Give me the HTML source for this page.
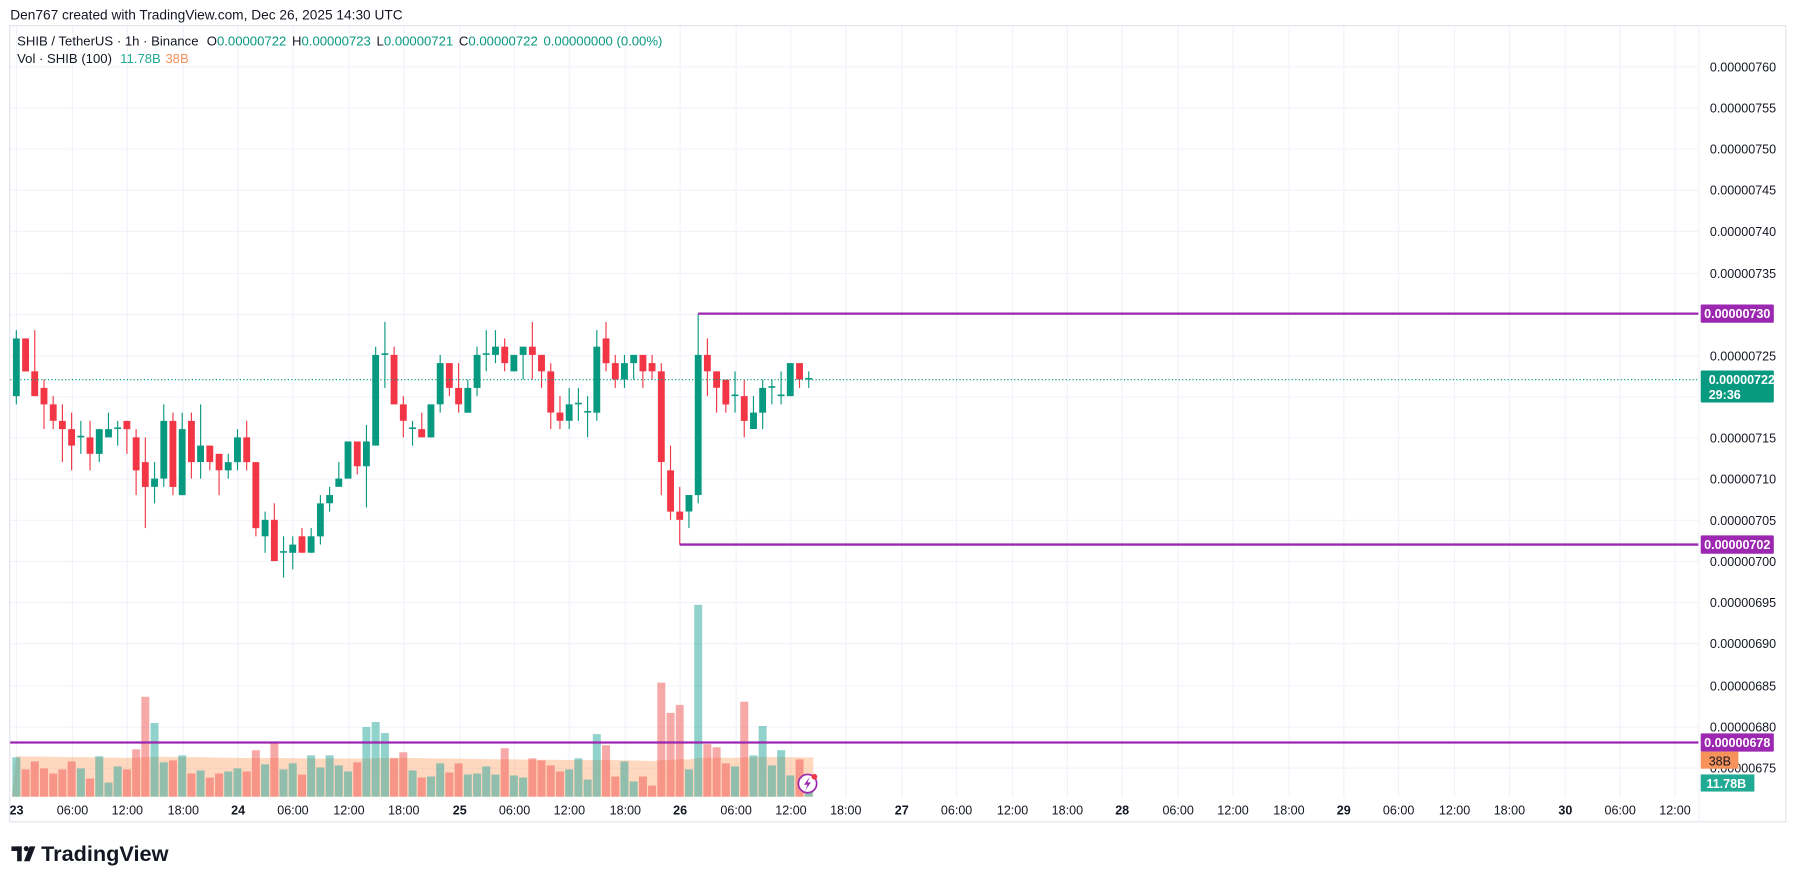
<!DOCTYPE html>
<html><head><meta charset="utf-8"><style>
html,body{margin:0;padding:0;background:#fff;}
svg{display:block;font-family:"Liberation Sans",sans-serif;}
</style></head><body>
<svg id="chart" width="1793" height="885" viewBox="0 0 1569.8 774.8" preserveAspectRatio="none" xmlns="http://www.w3.org/2000/svg">
<rect x="0" y="0" width="1570" height="775" fill="#ffffff"/>
<text x="9" y="17" font-size="12" fill="#131722">Den767 created with TradingView.com, Dec 26, 2025 14:30 UTC</text>
<g id="grid"></g>
<g id="vol"></g>
<g id="candles"></g>
<g id="over"></g>
<rect x="8.5" y="22.5" width="1555" height="697" fill="none" stroke="#e0e3eb"/>
<line x1="1487.5" y1="22" x2="1487.5" y2="720" stroke="#f0f3fa"/>
<text x="15" y="40" font-size="11.5" fill="#131722">SHIB / TetherUS · 1h · Binance <tspan dx="4">O</tspan><tspan fill="#089981">0.00000722</tspan><tspan dx="5">H</tspan><tspan fill="#089981">0.00000723</tspan><tspan dx="5">L</tspan><tspan fill="#089981">0.00000721</tspan><tspan dx="5">C</tspan><tspan fill="#089981">0.00000722</tspan><tspan dx="5" fill="#089981">0.00000000 (0.00%)</tspan></text>
<text x="15" y="55" font-size="11.5" fill="#131722">Vol · SHIB (100) <tspan dx="4" fill="#22ab94">11.78B</tspan><tspan dx="4" fill="#f7925a">38B</tspan></text>
<g>
<rect x="10" y="741" width="9" height="4" fill="#131722"/><rect x="15" y="741" width="4" height="13" fill="#131722"/>
<circle cx="23" cy="743" r="2.2" fill="#131722"/><polygon points="26,741 31,741 26,754 21,754" fill="#131722"/>
<text x="36" y="754" font-size="19" font-weight="bold" fill="#131722">TradingView</text>
</g>
</svg>
<script>
const opens=[720,727,723,721,719,717,716,715,715,713,715,716,717,715,712,709,710,717,708,717,712,714,713,711,712,715,712,703,705,701,701,703,701,703,707,709,710,714.5,711.5,714,725,725,719,716,716,715,719,724,721,718,721,725,725,726,723,725,726,725,723,718,717,719,718,718,727,724,722,724,725,724,723,711,706,706,708,725,723,722,720,720,716,718,721,720,720,724,722];
const highs=[728,727,728,722,720,719,718,717,717,716,718,717,717,716,715,712,719,718,718,718,719,714,713,713,716,717,712,706,707,703,703,704,704,708,709,712,714.5,714.5,716.5,726,729,726,720,717,718,719,725,724,724,722,726,728,728,727,725,726,729,725,724,720,721,721,720,728,729,725,725,725,725,725,724,714,709,708,730,727,723,722,723,722,720,722,722,723,724,724,723];
const lows=[719,723,720,716,716,712,711,713,711,712,715,714,713,708,704,707,709,708,708,710,710,711,708,710,711,711,703,701,700,698,699,701,701,702,706,709,710,710.5,706.5,714,721,719,715,714,715,715,718,720,718,718,720,723,724,723,723,722,722,721,716,716,716,717,715,717,723,721,721,722,721,722,708,705,702,704,707,720,718,718,718,715,716,716,719,719,720,721,721];
const closes=[727,723,720,719,717,716,714,715.2,713,716,716,716.2,716,711,709,710,717,709,716,712,714,712,711,712,715,712,704,705,700,701.2,702,701,703,707,708,710,714.5,711.5,714.5,725,725.2,719,717,716.2,715,719,724,721,719,721,725,725.2,726,724,725,726,725,723,718,717,719,719.2,718.2,726,724,722,724,725,723,723,712,706,705,708,725,723,721,719,720.2,717,718,721,721.2,720.2,724,722,722.2];
const volumes=[39,27,35,28,23,27,35,28,18,40,14,30,27,47,99,73,34,36,41,23,26,19,23,25,28,25,46,32,54,27,33,22,41,29,41,31,25,34,69,74,63,38,44,26,19,20,33,24,33,22,23,30,22,48,21,19,38,36,31,25,27,38,17,62,51,20,35,15,20,11,113,83,91,27,190,52,49,33,30,94,41,70,31,46,21,37,11.78];
const priceTicks=[760,755,750,745,740,735,730,725,720,715,710,705,700,695,690,685,680,675];
const timeLabels=["23","06:00","12:00","18:00","24","06:00","12:00","18:00","25","06:00","12:00","18:00","26","06:00","12:00","18:00","27","06:00","12:00","18:00","28","06:00","12:00","18:00","29","06:00","12:00","18:00","30","06:00","12:00"];
const levels=[730,702,678];
const lastPrice=722;
const prevAvgVol=40;

const NS="http://www.w3.org/2000/svg";
const X0=14.3, DX=8.067;
function xAt(i){return X0+i*DX;}
function yP(p){return 58+(760-p)*7.22;}
function yV(v){return 697.5-v*0.884;}
function mk(tag,attrs,parent){const e=document.createElementNS(NS,tag);for(const k in attrs)e.setAttribute(k,attrs[k]);parent.appendChild(e);return e;}
const grid=document.getElementById('grid'),volG=document.getElementById('vol'),cg=document.getElementById('candles'),over=document.getElementById('over');
const GREEN="#089981",RED="#f23645";
const badgeYs=levels.map(yP).concat([yP(lastPrice)+6]);

priceTicks.forEach(p=>{
  const y=Math.round(yP(p))+0.5;
  const l=mk('line',{x1:9,x2:1487,y1:y,y2:y,stroke:'#f0f3fa'},grid);
  
  
  if(badgeYs.some(b=>Math.abs(b-y)<11)) return;
  const t=mk('text',{x:1497,y:y+4,'font-size':11,fill:'#131722'},grid);
  
  
  t.textContent=(p/1e8).toFixed(8);
});
timeLabels.forEach((s,k)=>{
  const x=Math.round(xAt(k*6))+0.5;
  const l=mk('line',{x1:x,x2:x,y1:23,y2:698,stroke:'#f0f3fa'},grid);
  
  
  const day=!s.includes(':');
  const t=mk('text',{x:x,y:713,'font-size':11,fill:'#131722','text-anchor':'middle','font-weight':day?'bold':'normal'},grid);
  
  
  t.textContent=s;
});

const ma=[];
for(let i=0;i<volumes.length;i++){
  let s=0,n=0;
  for(let j=i-99;j<=i;j++){s+=(j<0?prevAvgVol:volumes[j]);n++;}
  ma.push(s/n);
}
let d='M'+(xAt(0)-4)+','+yV(0);
ma.forEach((m,i)=>{d+=' L'+xAt(i)+','+yV(m).toFixed(1);});
d+=' L'+(xAt(ma.length-1)+4)+','+yV(ma[ma.length-1]).toFixed(1)+' L'+(xAt(ma.length-1)+4)+','+yV(0)+' Z';
const area=mk('path',{d:d,fill:'rgba(255,152,90,0.38)'},volG);



volumes.forEach((v,i)=>{
  const up=closes[i]>=opens[i];
  const r=mk('rect',{x:(xAt(i)-3.5).toFixed(1),y:yV(v).toFixed(1),width:7,height:(v*0.884).toFixed(1),fill:up?'rgba(38,166,154,0.5)':'rgba(239,83,80,0.5)'},volG);
  
  
});

opens.forEach((o,i)=>{
  const c=closes[i],up=c>=o,col=up?GREEN:RED,x=xAt(i);
  const g=mk('g',{},cg);
  
  
  mk('line',{x1:x,x2:x,y1:yP(highs[i]),y2:yP(lows[i]),stroke:col,'stroke-width':1},g);
  const top=yP(Math.max(o,c)),bot=yP(Math.min(o,c));
  mk('rect',{x:(x-3).toFixed(1),y:top.toFixed(1),width:6,height:Math.max(1,bot-top).toFixed(1),fill:col},g);
});

const ly=yP(lastPrice);
const pl=mk('line',{x1:9,x2:1487,y1:ly,y2:ly,stroke:GREEN,'stroke-width':1,'stroke-dasharray':'1 2'},over);



const lvlStart=[xAt(74),xAt(72),8];
levels.forEach((p,k)=>{
  const y=yP(p);
  const l=mk('line',{x1:lvlStart[k],x2:1487,y1:y,y2:y,stroke:'#9c27b0','stroke-width':2},over);
  
  
  const b=mk('rect',{x:1489,y:y-8,width:64,height:16,rx:1,fill:'#9c27b0'},over);
  
  
  const t=mk('text',{x:1521,y:y+4,'font-size':11,'font-weight':'bold',fill:'#fff','text-anchor':'middle'},over);
  
  
  t.textContent=(p/1e8).toFixed(8);
});
const cb=mk('rect',{x:1489,y:ly-8,width:64,height:28,rx:1,fill:GREEN},over);


const ct=mk('text',{x:1496,y:ly+4,'font-size':11,'font-weight':'bold',fill:'#fff'},over);


ct.textContent=(lastPrice/1e8).toFixed(8);
const cd=mk('text',{x:1496,y:ly+17,'font-size':11,'font-weight':'bold',fill:'#fff'},over);


cd.textContent='29:36';
const ob=mk('rect',{x:1489,y:658,width:33,height:15,fill:'#f7925a'},over);


const ot=mk('text',{x:1496,y:670,'font-size':11,fill:'#131722'},over);


ot.textContent='38B';
const gb=mk('rect',{x:1489,y:678,width:47,height:15,fill:'#22ab94'},over);


const gt=mk('text',{x:1494,y:690,'font-size':11,'font-weight':'bold',fill:'#fff'},over);


gt.textContent='11.78B';
const ic=mk('g',{},over);


mk('circle',{cx:707,cy:686,r:8,fill:'#fff',stroke:'#9c27b0','stroke-width':1.5},ic);
mk('path',{d:'M709,680 L704,687 L707,687 L705,692 L710,685 L707,685 Z',fill:'#9c27b0'},ic);
mk('circle',{cx:713,cy:680,r:2.5,fill:'#f23645'},ic);
</script>
</body></html>
